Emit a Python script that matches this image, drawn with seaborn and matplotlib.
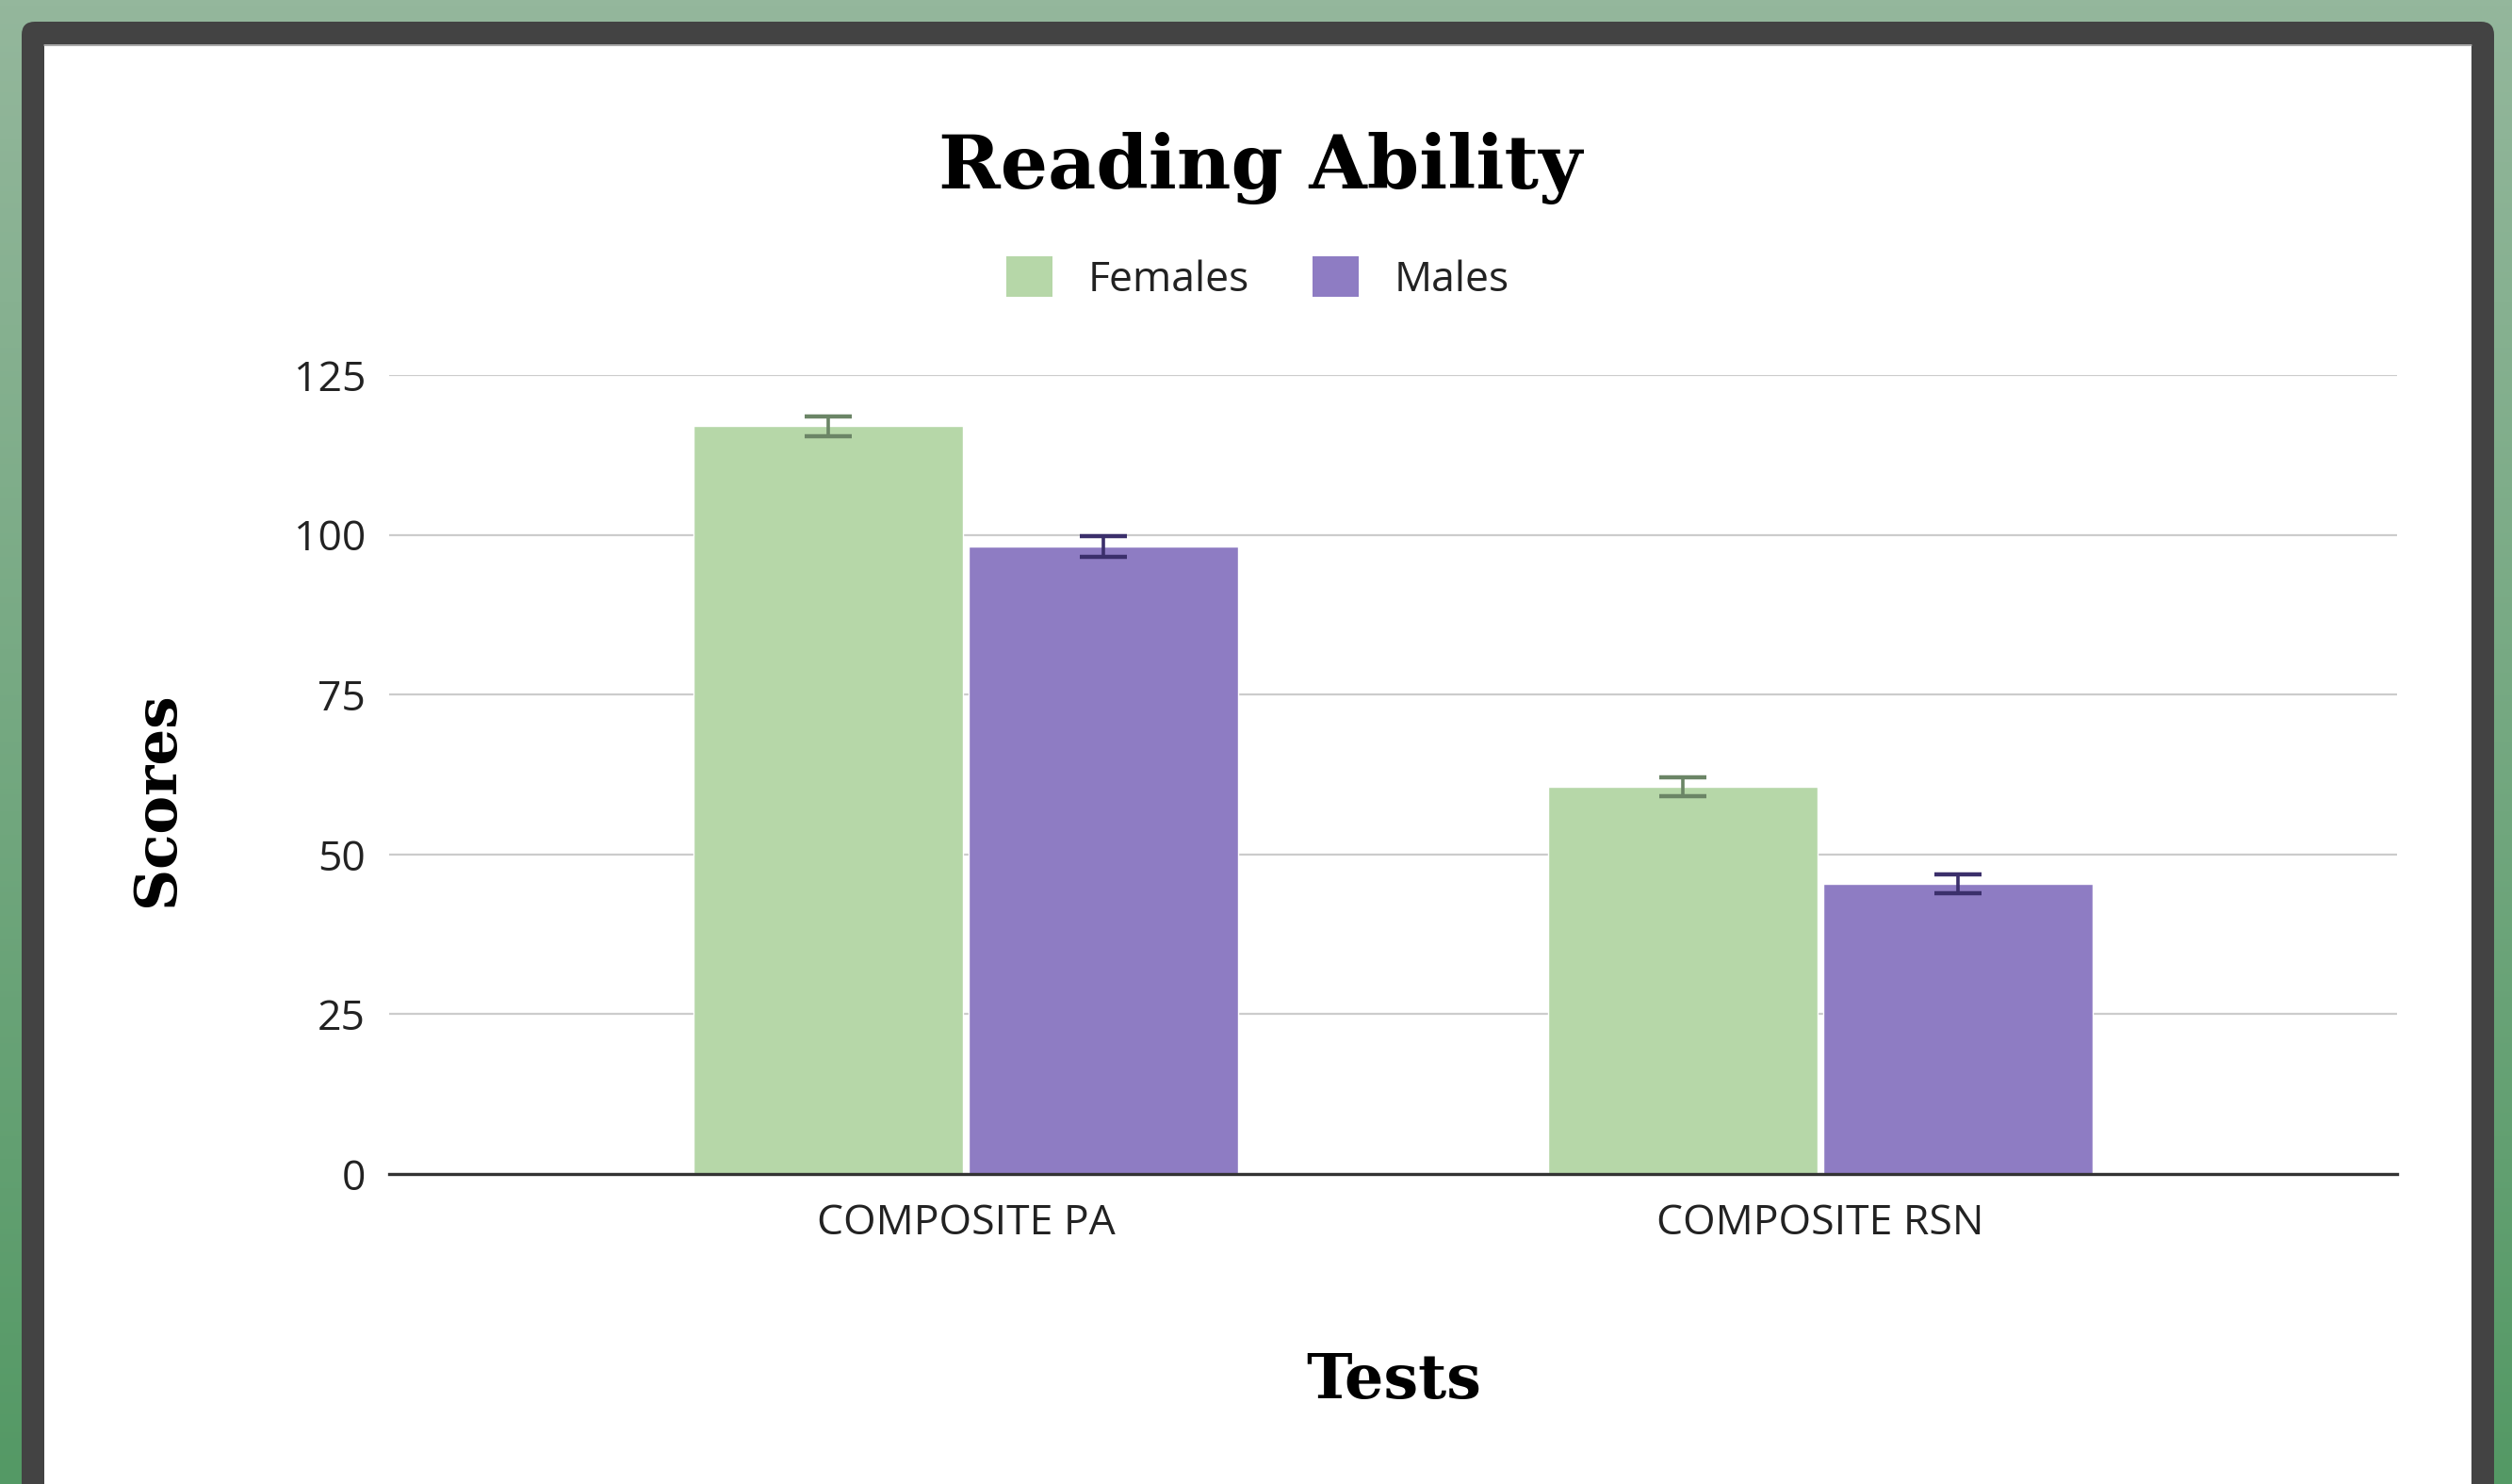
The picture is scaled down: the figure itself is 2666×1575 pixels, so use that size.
import matplotlib
matplotlib.use("Agg")
import matplotlib.pyplot as plt
from matplotlib.patches import FancyBboxPatch, Patch
import seaborn as sns
import pandas as pd
import numpy as np

sns.set_style("white")
plt.rcParams['font.family'] = ['Open Sans', 'DejaVu Sans']

# ====================== DATA ======================
tests = ['COMPOSITE PA', 'COMPOSITE RSN']
groups = ['Females', 'Males']
female_scores = [117.0, 60.6]
male_scores = [98.2, 45.4]
female_err = [1.55, 1.5]
male_err = [1.6, 1.5]

bar_colors = {'Females': '#b6d7a8', 'Males': '#8e7cc3'}
err_colors = ['#6b8566', '#3b2f6b']

df = pd.DataFrame({
    'test': tests * 2,
    'group': ['Females'] * len(tests) + ['Males'] * len(tests),
    'score': female_scores + male_scores,
})

# ====================== FIGURE / FRAME ======================
W, H = 2666, 1575
fig = plt.figure(figsize=(W / 100, H / 100), dpi=100)

bg = fig.add_axes([0, 0, 1, 1], zorder=-10)
bg.set_xlim(0, W)
bg.set_ylim(H, 0)
bg.axis('off')
top_c = np.array([148, 183, 156]) / 255
bot_c = np.array([84, 153, 101]) / 255
t = np.linspace(0, 1, 256)[:, None]
grad = (top_c[None, :] * (1 - t) + bot_c[None, :] * t)[:, None, :]
bg.imshow(grad, extent=[0, W, H, 0], aspect='auto')
bg.add_patch(FancyBboxPatch((23, 23), 2624, 1700, boxstyle='round,pad=0,rounding_size=14',
                            fc='#434343', ec='none'))
bg.add_patch(FancyBboxPatch((47, 47), 2576, 1700, boxstyle='square,pad=0',
                            fc='white', ec='none'))
bg.plot([47, 2623], [47.5, 47.5], color='#9a9a9a', lw=1.2)

# ====================== PLOT ======================
ax = fig.add_axes([413 / W, 1 - 1246 / H, (2544 - 413) / W, (1246 - 398) / H])
sns.barplot(data=df, x='test', y='score', hue='group', order=tests, hue_order=groups,
            palette=bar_colors, width=0.644, gap=0.02, errorbar=None,
            saturation=1, legend=False, ax=ax, zorder=3)

for cont, errs, ec in zip(ax.containers, [female_err, male_err], err_colors):
    xs = [b.get_x() + b.get_width() / 2 for b in cont]
    ys = [b.get_height() for b in cont]
    ax.errorbar(xs, ys, yerr=errs, fmt='none', ecolor=ec, elinewidth=2.6,
                capsize=18, capthick=3.2, zorder=4)

ax.set_xlim(-0.675, 1.675)
ax.set_ylim(0, 125)
ax.set_yticks([0, 25, 50, 75, 100, 125])
ax.yaxis.grid(True, color='#cccccc', lw=1.6, zorder=0)
ax.set_axisbelow(True)
for s in ['top', 'right', 'left']:
    ax.spines[s].set_visible(False)
ax.spines['bottom'].set_color('#333333')
ax.spines['bottom'].set_linewidth(2.4)
ax.spines['bottom'].set_zorder(5)
ax.tick_params(axis='both', length=0, labelsize=32, labelcolor='#222222')
ax.tick_params(axis='y', pad=18)
ax.tick_params(axis='x', pad=22)
ax.set_xlabel('')
ax.set_ylabel('')

serif = ['DejaVu Serif']
fig.text(1338 / W, 1 - 200 / H, 'Reading Ability', ha='center', va='baseline',
         fontsize=57, fontweight='bold', family=serif, color='black')
fig.text(167 / W, 1 - 848 / H, 'Scores', ha='center', va='center', rotation=90,
         fontsize=44, fontweight='bold', family=serif, color='black')
fig.text(1479 / W, 1 - 1484 / H, 'Tests', ha='center', va='baseline',
         fontsize=47, fontweight='bold', family=serif, color='black')

handles = [Patch(facecolor=bar_colors[g], edgecolor='none') for g in groups]
fig.legend(handles, groups, loc='center', bbox_to_anchor=(1335 / W, 1 - 296 / H),
           ncol=2, frameon=False, fontsize=32, handlelength=1.1, handleheight=1.1,
           handletextpad=0.85, columnspacing=1.5, labelcolor='#222222')

plt.savefig('out.png', dpi=100)
